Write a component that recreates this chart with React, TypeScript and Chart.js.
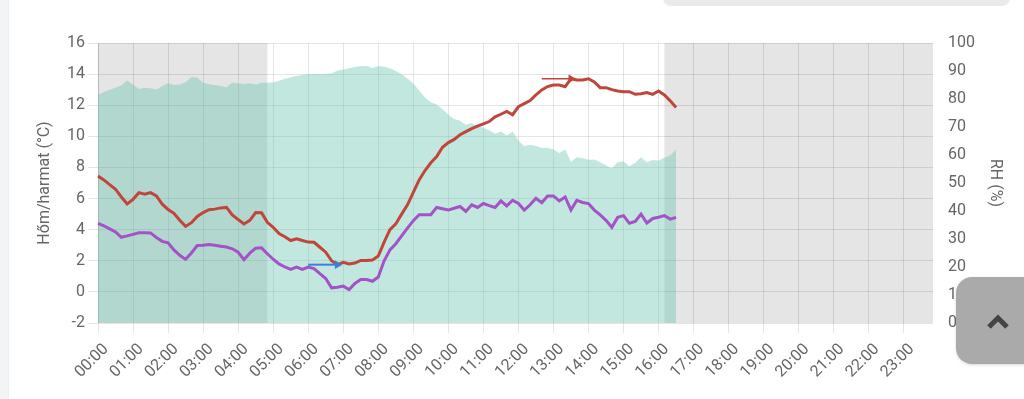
import React, { useEffect, useRef } from 'react';
import { Chart, registerables } from 'chart.js';

Chart.register(...registerables);

const hourLabels = [
  '00:00', '01:00', '02:00', '03:00', '04:00', '05:00', '06:00', '07:00',
  '08:00', '09:00', '10:00', '11:00', '12:00', '13:00', '14:00', '15:00',
  '16:00', '17:00', '18:00', '19:00', '20:00', '21:00', '22:00', '23:00',
];
const minuteSteps = ['00', '10', '20', '30', '40', '50'];
const slotLabels = hourLabels.flatMap((h) => minuteSteps.map((m) => h.slice(0, 3) + m));

// Temperature (°C), every 10 minutes from 00:00 to 16:30
const temperature = [
  7.45, 7.2, 6.9, 6.6, 6.1, 5.65, 5.95, 6.38, 6.28, 6.38,
  6.17, 5.64, 5.3, 5.05, 4.6, 4.21, 4.45, 4.85, 5.1, 5.28,
  5.32, 5.4, 5.43, 4.95, 4.65, 4.37, 4.6, 5.1, 5.09, 4.47,
  4.15, 3.75, 3.55, 3.3, 3.41, 3.3, 3.2, 3.19, 2.87, 2.55,
  2.0, 1.75, 1.9, 1.8, 1.85, 2.02, 2.02, 2.05, 2.3, 3.2,
  4.0, 4.37, 5.0, 5.6, 6.4, 7.2, 7.8, 8.3, 8.7, 9.3,
  9.6, 9.8, 10.1, 10.3, 10.5, 10.65, 10.8, 10.95, 11.25, 11.42,
  11.6, 11.39, 11.9, 12.1, 12.3, 12.66, 12.98, 13.2, 13.3, 13.3,
  13.19, 13.7, 13.62, 13.62, 13.7, 13.5, 13.13, 13.13, 13.0, 12.92,
  12.87, 12.87, 12.7, 12.74, 12.81, 12.7, 12.92, 12.66, 12.28, 11.85,
];

// Dew point (°C)
const dewPoint = [
  4.41, 4.25, 4.05, 3.85, 3.51, 3.6, 3.7, 3.8, 3.8, 3.79,
  3.5, 3.25, 3.15, 2.7, 2.35, 2.09, 2.5, 2.98, 3.0, 3.04,
  3.0, 2.94, 2.88, 2.77, 2.55, 2.07, 2.49, 2.81, 2.83, 2.45,
  2.1, 1.8, 1.6, 1.45, 1.6, 1.45, 1.6, 1.5, 1.17, 0.86,
  0.26, 0.3, 0.37, 0.15, 0.54, 0.79, 0.79, 0.68, 0.96, 2.0,
  2.7, 3.1, 3.6, 4.1, 4.58, 4.96, 4.96, 4.96, 5.43, 5.35,
  5.26, 5.38, 5.49, 5.17, 5.6, 5.43, 5.68, 5.55, 5.43, 5.85,
  5.53, 5.89, 5.68, 5.26, 5.6, 6.02, 5.74, 6.17, 6.17, 5.85,
  6.1, 5.26, 5.89, 5.75, 5.68, 5.26, 4.95, 4.6, 4.15, 4.79,
  4.9, 4.41, 4.53, 5.0, 4.43, 4.72, 4.8, 4.9, 4.68, 4.79,
];

// Relative humidity (%)
const humidity = [
  81.5, 82.5, 83.3, 84.0, 84.8, 86.6, 85.2, 83.6, 84.0, 83.8,
  83.3, 84.6, 85.6, 85.0, 85.2, 86.0, 87.9, 87.7, 85.8, 85.3,
  85.0, 84.6, 84.2, 85.8, 85.6, 85.4, 85.6, 85.2, 85.8, 85.8,
  86.0, 86.5, 87.2, 87.8, 88.2, 88.6, 88.8, 88.9, 88.9, 89.0,
  89.1, 90.2, 90.5, 91.0, 91.4, 91.7, 91.8, 91.1, 91.8, 91.5,
  91.0, 90.0, 88.8, 87.3, 85.5, 83.0, 80.5, 78.8, 78.0, 76.3,
  74.4, 72.9, 72.2, 70.8, 71.4, 70.2, 69.7, 68.8, 67.6, 68.4,
  67.0, 68.4, 65.2, 63.1, 63.7, 63.2, 62.5, 62.6, 62.0, 60.7,
  62.0, 57.6, 59.2, 58.8, 58.3, 58.4, 57.4, 56.3, 55.2, 57.4,
  57.8, 56.0, 57.2, 59.2, 57.4, 58.2, 58.0, 59.0, 59.8, 62.0,
];

const nightRanges = [
  ['00:00', '04:50'],
  ['16:10', '23:50'],
];

const leftTitle = 'Hőm/harmat (°C)';
const rightTitle = 'RH (%)';

const RED = '#c0463b';
const PURPLE = '#a452c8';
const BLUE = '#3d7fd6';
const TEAL = 'rgba(102,196,174,0.4)';
const GRID = 'rgba(0,0,0,0.1)';
const FONT = 'Roboto';

const nightPlugin = {
  id: 'nightBoxes',
  beforeDraw(chart: any) {
    const { ctx, chartArea, scales } = chart;
    const x = scales.x;
    ctx.save();
    ctx.fillStyle = '#e5e5e5';
    nightRanges.forEach(([s, e]) => {
      const x1 = x.getPixelForValue(slotLabels.indexOf(s));
      const x2 = x.getPixelForValue(slotLabels.indexOf(e));
      ctx.fillRect(x1, chartArea.top, x2 - x1, chartArea.bottom - chartArea.top);
    });
    ctx.restore();
  },
};

function arrowSeries(idx: number, len: number) {
  return temperature.map((_, i) => (i >= idx - len && i <= idx ? temperature[idx] : null));
}

export default function App() {
  const ref = useRef<HTMLCanvasElement | null>(null);

  useEffect(() => {
    if (!ref.current) return;
    const minIdx = temperature.indexOf(Math.min(...temperature));
    const maxIdx = temperature.indexOf(Math.max(...temperature));
    const chart = new Chart(ref.current, {
      type: 'line',
      data: {
        labels: slotLabels,
        datasets: [
          {
            label: 'min',
            data: arrowSeries(minIdx, 5),
            yAxisID: 'y',
            borderColor: BLUE,
            borderWidth: 2,
            pointStyle: 'triangle',
            rotation: 90,
            pointRadius: (c: any) => (c.dataIndex === minIdx ? 5 : 0),
            pointBackgroundColor: BLUE,
            pointBorderColor: BLUE,
            pointBorderWidth: 0,
            fill: false,
          },
          {
            label: 'max',
            data: arrowSeries(maxIdx, 5),
            yAxisID: 'y',
            borderColor: RED,
            borderWidth: 1.5,
            pointStyle: 'triangle',
            rotation: 90,
            pointRadius: (c: any) => (c.dataIndex === maxIdx ? 5 : 0),
            pointBackgroundColor: RED,
            pointBorderColor: RED,
            pointBorderWidth: 0,
            fill: false,
          },
          {
            label: 'Hőmérséklet',
            data: temperature,
            yAxisID: 'y',
            borderColor: RED,
            borderWidth: 3,
            pointRadius: 0,
            tension: 0,
            fill: false,
          },
          {
            label: 'Harmatpont',
            data: dewPoint,
            yAxisID: 'y',
            borderColor: PURPLE,
            borderWidth: 3,
            pointRadius: 0,
            tension: 0,
            fill: false,
          },
          {
            label: 'RH',
            data: humidity,
            yAxisID: 'y1',
            borderWidth: 0,
            borderColor: 'rgba(0,0,0,0)',
            backgroundColor: TEAL,
            pointRadius: 0,
            tension: 0,
            fill: 'origin',
          },
        ],
      },
      options: {
        animation: false,
        responsive: false,
        devicePixelRatio: 1,
        layout: { padding: { left: 31, right: 15, top: 43, bottom: 0 } },
        plugins: {
          legend: { display: false },
          tooltip: { enabled: false },
        },
        scales: {
          x: {
            type: 'category',
            afterFit: (s: any) => { s.height = 76; },
            grid: {
              color: (c: any) => (c.index % 6 === 0 ? GRID : 'rgba(0,0,0,0)'),
              tickLength: 10,
            },
            border: { display: false },
            ticks: {
              autoSkip: false,
              maxRotation: 45,
              minRotation: 45,
              padding: 7,
              labelOffset: 8,
              color: '#666',
              font: { family: FONT, size: 16 },
              callback: (_v: any, i: number) => (i % 6 === 0 ? slotLabels[i] : ''),
            },
          },
          y: {
            position: 'left',
            min: -2,
            max: 16,
            afterFit: (s: any) => { s.width = 67; },
            grid: { color: GRID, tickLength: 10 },
            border: { display: true, color: GRID },
            ticks: { stepSize: 2, color: '#666', font: { family: FONT, size: 16 } },
            title: {
              display: true,
              text: leftTitle,
              color: '#666',
              font: { family: FONT, size: 16 },
            },
          },
          y1: {
            position: 'right',
            min: 0,
            max: 100,
            afterFit: (s: any) => { s.width = 76; },
            grid: { drawOnChartArea: false, color: 'rgba(0,0,0,0)', tickLength: 12 },
            border: { display: false },
            ticks: { stepSize: 10, color: '#666', font: { family: FONT, size: 16 } },
            title: {
              display: true,
              text: rightTitle,
              color: '#666',
              font: { family: FONT, size: 16 },
            },
          },
        },
      },
      plugins: [nightPlugin],
    } as any);
    return () => chart.destroy();
  }, []);

  return (
    <div style={{ position: 'fixed', left: 0, top: 0, width: 1024, height: 399, background: '#fff', overflow: 'hidden' }}>
      <div style={{ position: 'absolute', left: 0, top: 0, width: 8, height: 399, background: '#f3f4f6', borderRight: '1px solid #eceef0' }} />
      <div style={{ position: 'absolute', left: 663, top: -12, width: 347, height: 18, background: '#e9eaec', borderRadius: 8 }} />
      <canvas ref={ref} width={1024} height={399} style={{ position: 'absolute', left: 0, top: 0, width: 1024, height: 399 }} />
      <div style={{ position: 'absolute', left: 956, top: 277, width: 90, height: 87, background: '#aaaaaa', borderRadius: 16, boxShadow: '0 1px 3px rgba(0,0,0,0.15)' }}>
        <svg width="90" height="87" style={{ position: 'absolute', left: 0, top: 0 }}>
          <polyline points="33,50 42,41 51,50" fill="none" stroke="#444" strokeWidth="5" strokeLinejoin="miter" />
        </svg>
      </div>
    </div>
  );
}
